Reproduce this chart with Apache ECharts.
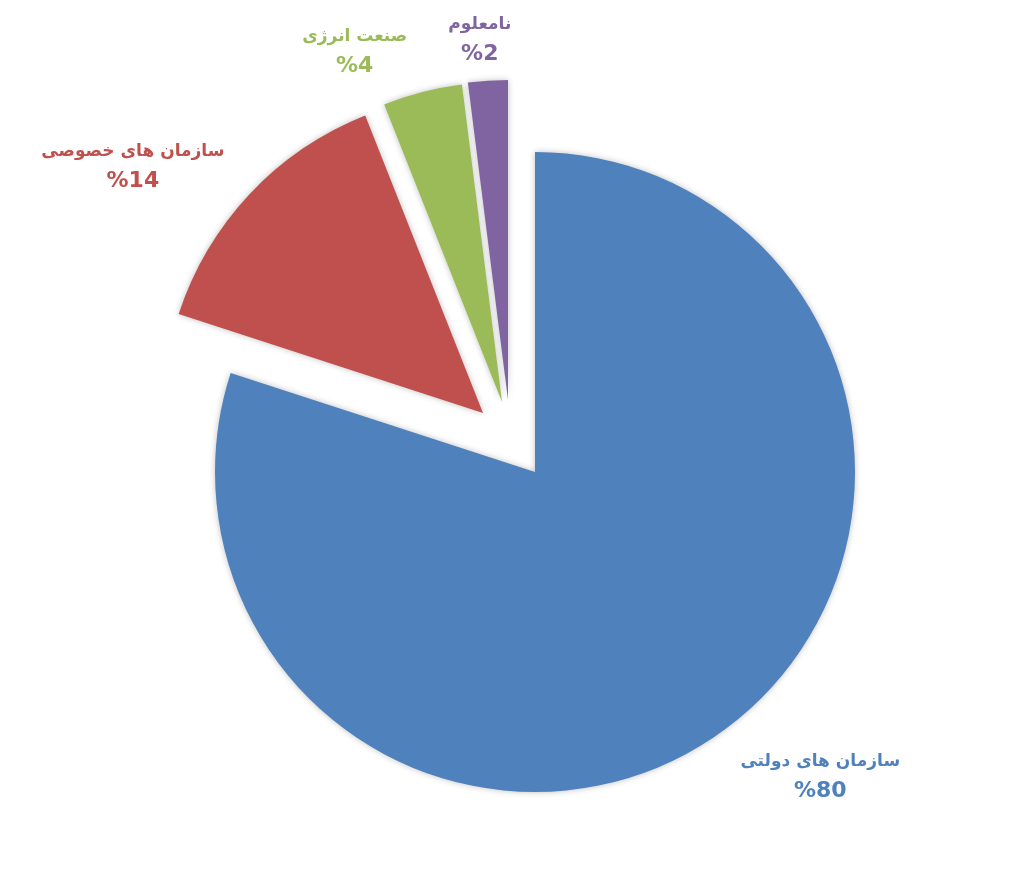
<!DOCTYPE html>
<html><head><meta charset="utf-8">
<script src="https://cdn.jsdelivr.net/npm/echarts@6/dist/echarts.min.js"></script>
<style>html,body{margin:0;padding:0;background:#fff}#c{width:1024px;height:883px}</style>
</head><body><div id="c"></div>
<script>
const categories = ['سازمان های دولتی', 'سازمان های خصوصی', 'صنعت انرژی', 'نامعلوم'];
const values = [80, 14, 4, 2];
const colors = ['#4F81BD', '#C0504D', '#9BBB59', '#8064A2'];
// explosion offset of each slice (px) and label line length
const explodeShift = [[0, 0], [-52, -59], [-33, -70], [-27, -72]];
const labelDist = [55, 47, 41, 42];
const labelNudge = [[-20, 1], [14, 5], [0, -1], [31, 1]];

const baseCenter = [535, 472];
const chart = echarts.init(document.getElementById('c'), null, {renderer: 'canvas'});

const series = categories.map((cat, k) => ({
  type: 'pie',
  center: [baseCenter[0] + explodeShift[k][0], baseCenter[1] + explodeShift[k][1]],
  radius: 320,
  startAngle: 90,
  clockwise: true,
  silent: true,
  avoidLabelOverlap: false,
  label: {
    show: true, position: 'outside', color: colors[k],
    fontFamily: 'DejaVu Sans', fontWeight: 'bold',
    formatter: p => '{n|' + p.name + '}\n{p|%' + p.value + '}',
    rich: {
      n: {fontFamily: 'DejaVu Sans', fontWeight: 'bold', fontSize: 17, lineHeight: 30, align: 'center', color: colors[k]},
      p: {fontFamily: 'DejaVu Sans', fontWeight: 'bold', fontSize: 22, lineHeight: 30, align: 'center', color: colors[k]}
    }
  },
  labelLine: {show: false, length: labelDist[k], length2: 0},
  labelLayout: p => ({dx: labelNudge[k][0], dy: labelNudge[k][1]}),
  data: categories.map((c, i) => ({
    name: c, value: values[i],
    itemStyle: i === k
      ? {color: colors[i], shadowBlur: 6, shadowColor: 'rgba(0,0,0,0.25)'}
      : {color: 'rgba(0,0,0,0)'},
    label: {show: i === k}
  }))
}));

chart.setOption({animation: false, series});
</script></body></html>
